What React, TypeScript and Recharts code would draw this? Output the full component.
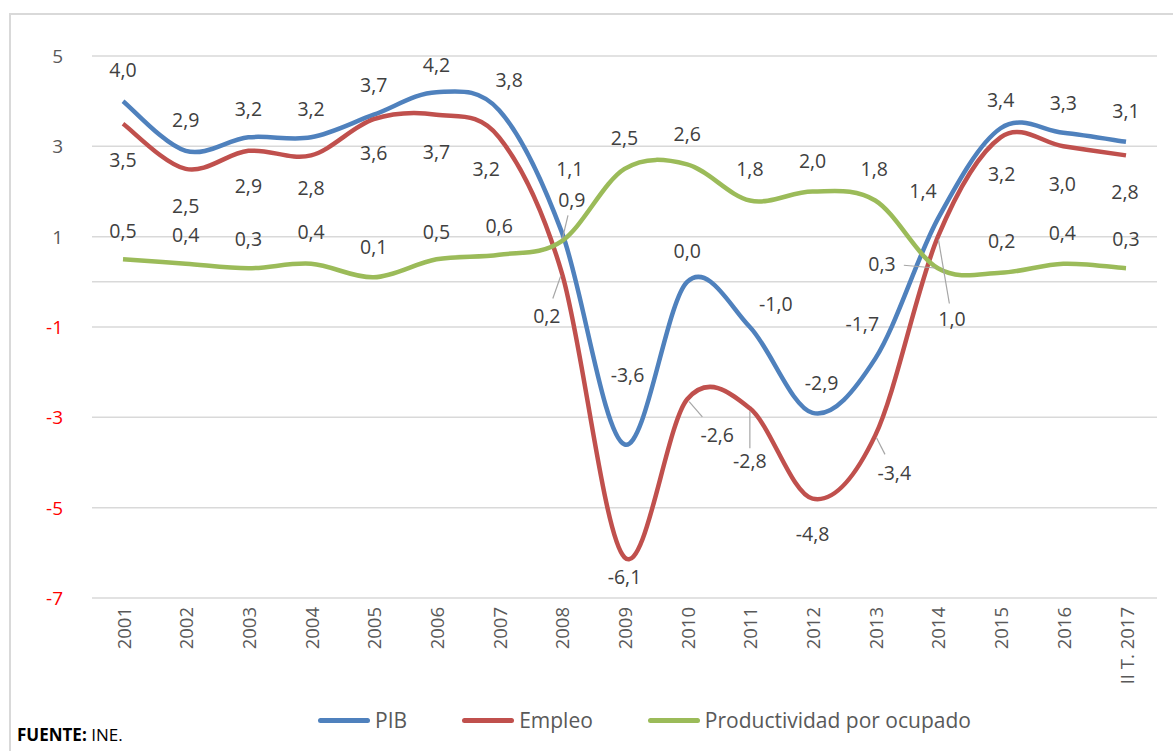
import { LineChart, Line, XAxis, YAxis, CartesianGrid, ReferenceLine, Legend, LabelList } from "recharts";

const years = ["2001", "2002", "2003", "2004", "2005", "2006", "2007", "2008", "2009", "2010", "2011", "2012", "2013", "2014", "2015", "2016", "II T. 2017"];
const pib = [4.0, 2.9, 3.2, 3.2, 3.7, 4.2, 3.8, 1.1, -3.6, 0.0, -1.0, -2.9, -1.7, 1.4, 3.4, 3.3, 3.1];
const empleo = [3.5, 2.5, 2.9, 2.8, 3.6, 3.7, 3.2, 0.2, -6.1, -2.6, -2.8, -4.8, -3.4, 1.0, 3.2, 3.0, 2.8];
const productividad = [0.5, 0.4, 0.3, 0.4, 0.1, 0.5, 0.6, 0.9, 2.5, 2.6, 1.8, 2.0, 1.8, 0.3, 0.2, 0.4, 0.3];
const yTicks = [-7, -5, -3, -1, 1, 3, 5];

const data = years.map((year, i) => ({
  year,
  pib: pib[i],
  empleo: empleo[i],
  productividad: productividad[i],
}));

// label placement, [dx, dy, leader line]
type Off = [number, number, boolean?];
const pibLabels: Off[] = [
  [0, -32], [0, -31], [0, -29], [0, -29], [0, -30], [0, -28], [10, -31], [8, -64], [3, -70],
  [0, -31], [26, -24], [9, -30], [-13, -35], [-15, -28], [0, -29], [0, -30], [0, -31],
];
const empleoLabels: Off[] = [
  [0, 36], [0, 37], [0, 35], [0, 32], [0, 33], [0, 37], [-13, 31], [-15, 43, true], [0, 19],
  [30, 35, true], [0, 52, true], [0, 35], [19, 37, true], [14, 82, true], [1, 36], [-1, 37], [-1, 36],
];
const prodLabels: Off[] = [
  [0, -29], [0, -29], [0, -30], [0, -32], [0, -31], [0, -28], [0, -29], [10, -42, true], [0, -31],
  [0, -31], [0, -32], [0, -31], [-1, -32], [-56, -5, true], [1, -32], [-1, -31], [0, -30],
];

const COLORS = { pib: "#4f81bd", empleo: "#c0504d", productividad: "#9bbb59" };
const FONT = "'Open Sans', sans-serif";

// Excel-like smoothing (Catmull-Rom as cubic bezier)
function excelCurve(context: any) {
  let pts: number[][] = [];
  return {
    areaStart() {},
    areaEnd() {},
    lineStart() {
      pts = [];
    },
    lineEnd() {
      const n = pts.length;
      if (!n) return;
      context.moveTo(pts[0][0], pts[0][1]);
      for (let i = 0; i < n - 1; i++) {
        const p0 = pts[Math.max(i - 1, 0)];
        const p1 = pts[i];
        const p2 = pts[i + 1];
        const p3 = pts[Math.min(i + 2, n - 1)];
        context.bezierCurveTo(
          p1[0] + (p2[0] - p0[0]) / 6,
          p1[1] + (p2[1] - p0[1]) / 6,
          p2[0] - (p3[0] - p1[0]) / 6,
          p2[1] - (p3[1] - p1[1]) / 6,
          p2[0],
          p2[1]
        );
      }
    },
    point(x: number, y: number) {
      pts.push([+x, +y]);
    },
  };
}

const fmt = (v: number) => v.toFixed(1).replace(".", ",");

function makeLabel(offsets: Off[]) {
  return (props: any) => {
    const { x, y, value, index } = props;
    const [dx, dy, leader] = offsets[index] || [0, -30];
    const lx = x + dx;
    const ly = y + dy;
    let line = null;
    if (leader) {
      const len = Math.hypot(dx, dy);
      const ux = dx / len;
      const uy = dy / len;
      const r = Math.abs(ux) * 21 + Math.abs(uy) * 12;
      line = (
        <line
          x1={x + ux * 3}
          y1={y + uy * 3}
          x2={lx - ux * r}
          y2={ly - uy * r}
          stroke="#a6a6a6"
          strokeWidth={1.2}
        />
      );
    }
    return (
      <g>
        {line}
        <text x={lx} y={ly} textAnchor="middle" dominantBaseline="central" fill="#404040" fontSize={19.5} fontFamily={FONT}>
          {fmt(value)}
        </text>
      </g>
    );
  };
}

const YTick = ({ x, y, payload }: any) => (
  <text x={x} y={y} textAnchor="end" dominantBaseline="central" fontSize={19} fontFamily={FONT} fill={payload.value < 0 ? "#ff0000" : "#595959"}>
    {payload.value}
  </text>
);

const XTick = ({ x, y, payload }: any) => (
  <g transform={`translate(${x},${y})`}>
    <text transform="rotate(-90)" textAnchor="end" dominantBaseline="central" fontSize={18.5} fontFamily={FONT} fill="#595959">
      {payload.value}
    </text>
  </g>
);

const legendItems = [
  { name: "PIB", color: COLORS.pib },
  { name: "Empleo", color: COLORS.empleo },
  { name: "Productividad por ocupado", color: COLORS.productividad },
];

const LegendContent = () => (
  <div style={{ display: "flex", justifyContent: "center", alignItems: "center", paddingLeft: 132, fontFamily: FONT, fontSize: 21, color: "#595959" }}>
    {legendItems.map((it, i) => (
      <div key={it.name} style={{ display: "flex", alignItems: "center", marginRight: i < 2 ? 55 : 0 }}>
        <span style={{ display: "inline-block", width: 52, height: 5, borderRadius: 3, background: it.color, marginRight: 5 }} />
        <span>{it.name}</span>
      </div>
    ))}
  </div>
);

export default function App() {
  return (
    <div style={{ position: "absolute", left: 0, top: 0, width: 1173, height: 751, background: "#fff" }}>
      <div style={{ position: "absolute", left: 9, top: 13, right: 0, bottom: 0, borderLeft: "2px solid #d9d9d9", borderTop: "2px solid #d9d9d9" }} />
      <div style={{ position: "absolute", left: 0, top: 0 }}>
        <LineChart width={1173} height={751} data={data} margin={{ top: 56, right: 16, bottom: 21, left: 0 }}>
          <CartesianGrid vertical={false} stroke="#d9d9d9" strokeWidth={1.5} />
          <ReferenceLine y={0} stroke="#d9d9d9" strokeWidth={1.5} />
          <XAxis
            dataKey="year"
            axisLine={false}
            tickLine={false}
            tickMargin={3}
            height={108}
            interval={0}
            padding={{ left: 31, right: 31 }}
            tick={<XTick />}
          />
          <YAxis
            domain={[-7, 5]}
            ticks={yTicks}
            axisLine={false}
            tickLine={false}
            tickMargin={23}
            width={92}
            tick={<YTick />}
          />
          <Legend verticalAlign="bottom" height={24} content={<LegendContent />} />
          <Line dataKey="pib" name="PIB" type={excelCurve as any} stroke={COLORS.pib} strokeWidth={4.5} dot={false} isAnimationActive={false}>
            <LabelList dataKey="pib" content={makeLabel(pibLabels)} />
          </Line>
          <Line dataKey="empleo" name="Empleo" type={excelCurve as any} stroke={COLORS.empleo} strokeWidth={4.5} dot={false} isAnimationActive={false}>
            <LabelList dataKey="empleo" content={makeLabel(empleoLabels)} />
          </Line>
          <Line dataKey="productividad" name="Productividad por ocupado" type={excelCurve as any} stroke={COLORS.productividad} strokeWidth={4.5} dot={false} isAnimationActive={false}>
            <LabelList dataKey="productividad" content={makeLabel(prodLabels)} />
          </Line>
        </LineChart>
      </div>
      <div style={{ position: "absolute", left: 17, top: 723, fontFamily: FONT, fontSize: 17, color: "#000" }}>
        <b>FUENTE:</b> INE.
      </div>
    </div>
  );
}
